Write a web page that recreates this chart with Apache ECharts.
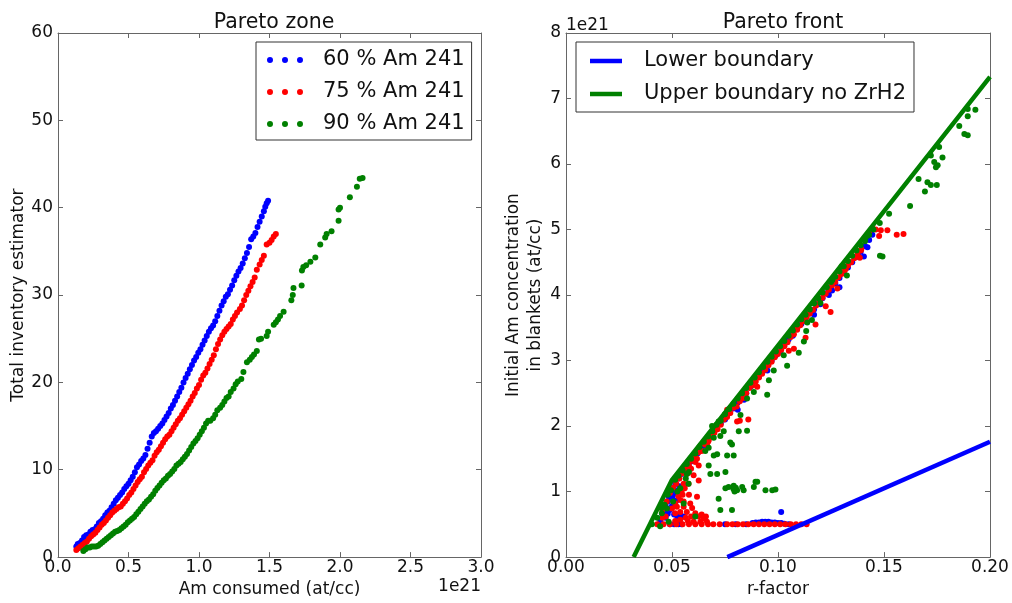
<!DOCTYPE html>
<html>
<head>
<meta charset="utf-8">
<script src="https://cdn.jsdelivr.net/npm/echarts@6/dist/echarts.min.js"></script>
<style>
html,body{margin:0;padding:0;background:#fff;overflow:hidden;}
#chart{width:1012px;height:603px;}
</style>
</head>
<body>
<div id="chart"></div>
<script>
// ---------- Data (x in units of 1e21 on the left panel, y in units of 1e21 on the right panel) ----------
const zoneTitle = 'Pareto zone';
const frontTitle = 'Pareto front';
const zoneNames = ['60 % Am 241', '75 % Am 241', '90 % Am 241'];
const boundaryNames = ['Lower boundary', 'Upper boundary no ZrH2'];

// Left panel: Am consumed (1e21 at/cc) vs total inventory estimator
const zone60 = [
[0.13,1.2],[0.14,1.5],[0.155,1.6],[0.17,1.9],[0.185,2.3],[0.2,2.5],[0.215,2.6],[0.23,2.9],[0.245,3.1],[0.26,3.2],
[0.275,3.5],[0.29,3.9],[0.305,4.1],[0.32,4.4],[0.335,4.8],[0.35,5.1],[0.365,5.3],[0.38,5.7],[0.395,6.1],[0.41,6.5],
[0.425,6.8],[0.44,7.1],[0.455,7.4],[0.47,7.8],[0.485,8.1],[0.5,8.4],[0.515,8.8],[0.53,9.2],[0.545,9.7],[0.56,10.3],
[0.575,10.6],[0.59,11.0],[0.605,11.3],[0.62,11.7],[0.635,12.4],[0.65,13.1],[0.665,13.8],[0.68,14.2],[0.695,14.4],[0.71,14.7],
[0.725,15.0],[0.74,15.3],[0.755,15.7],[0.77,16.1],[0.785,16.5],[0.8,17.0],[0.815,17.4],[0.83,17.9],[0.845,18.4],[0.86,18.9],
[0.875,19.4],[0.89,20.0],[0.905,20.5],[0.92,21.0],[0.935,21.5],[0.95,22.0],[0.965,22.5],[0.98,22.9],[0.995,23.4],[1.01,23.8],
[1.025,24.3],[1.04,24.8],[1.055,25.3],[1.07,25.8],[1.085,26.2],[1.1,26.5],[1.115,27.0],[1.13,27.6],[1.145,28.2],[1.16,28.8],
[1.175,29.3],[1.19,29.8],[1.205,30.1],[1.22,30.6],[1.235,31.1],[1.25,31.7],[1.265,32.2],[1.28,32.7],[1.295,33.1],[1.31,33.6],
[1.325,34.2],[1.34,34.8],[1.355,35.5],[1.37,36.4],[1.385,36.7],[1.4,37.1],[1.415,37.8],[1.43,38.4],[1.445,39.0],[1.46,39.6],
[1.47,40.1],[1.48,40.5],[1.49,40.8]
];
const zone75 = [
[0.13,0.8],[0.145,1.0],[0.16,1.2],[0.175,1.4],[0.19,1.6],[0.205,1.8],[0.22,2.1],[0.235,2.4],[0.25,2.6],[0.265,2.8],
[0.28,3.1],[0.295,3.4],[0.31,3.7],[0.325,3.9],[0.34,4.2],[0.355,4.5],[0.37,4.8],[0.385,5.1],[0.4,5.3],[0.415,5.5],
[0.43,5.7],[0.445,5.8],[0.46,6.1],[0.475,6.4],[0.49,6.7],[0.505,7.1],[0.52,7.4],[0.535,7.8],[0.55,8.2],[0.565,8.6],
[0.58,8.9],[0.595,9.2],[0.61,9.7],[0.625,10.1],[0.64,10.5],[0.655,10.8],[0.67,11.1],[0.685,11.6],[0.7,12.0],[0.715,12.3],
[0.73,12.7],[0.745,13.1],[0.76,13.5],[0.775,13.8],[0.79,14.0],[0.805,14.4],[0.82,14.8],[0.835,15.2],[0.85,15.6],[0.865,15.9],
[0.88,16.3],[0.895,16.7],[0.91,17.1],[0.925,17.5],[0.94,17.9],[0.955,18.4],[0.97,18.8],[0.985,19.3],[1.0,19.7],[1.015,20.3],
[1.03,20.8],[1.045,21.1],[1.06,21.6],[1.075,22.1],[1.09,22.6],[1.105,23.1],[1.12,23.8],[1.135,24.4],[1.15,24.9],[1.165,25.4],
[1.18,25.8],[1.195,26.1],[1.21,26.4],[1.225,26.7],[1.24,27.2],[1.255,27.6],[1.27,28.0],[1.29,28.4],[1.305,28.8],[1.32,29.4],
[1.335,30.0],[1.35,30.5],[1.365,31.0],[1.38,31.5],[1.395,32.0],[1.41,32.9],[1.43,33.5],[1.445,34.0],[1.46,34.5],[1.48,35.8],
[1.5,36.0],[1.515,36.3],[1.53,36.7],[1.545,37.0]
];
const zone90 = [
[0.18,0.7],[0.195,0.9],[0.21,1.1],[0.225,1.1],[0.24,1.2],[0.255,1.2],[0.27,1.2],[0.285,1.3],[0.3,1.5],[0.315,1.7],
[0.33,1.9],[0.345,2.1],[0.36,2.3],[0.375,2.5],[0.39,2.7],[0.405,2.9],[0.42,3.0],[0.435,3.1],[0.45,3.3],[0.465,3.5],
[0.48,3.7],[0.495,4.0],[0.51,4.2],[0.525,4.4],[0.54,4.6],[0.555,4.9],[0.57,5.2],[0.585,5.5],[0.6,5.8],[0.615,6.1],
[0.63,6.4],[0.645,6.6],[0.66,6.9],[0.675,7.2],[0.69,7.6],[0.705,7.9],[0.72,8.2],[0.735,8.5],[0.75,8.8],[0.765,9.0],
[0.78,9.3],[0.795,9.5],[0.81,9.8],[0.825,10.1],[0.84,10.5],[0.855,10.7],[0.87,10.9],[0.885,11.2],[0.9,11.5],[0.915,11.8],
[0.93,12.2],[0.945,12.6],[0.96,13.0],[0.975,13.3],[0.99,13.6],[1.005,14.0],[1.02,14.4],[1.035,14.8],[1.05,15.3],[1.065,15.6],
[1.08,15.6],[1.1,15.9],[1.115,16.3],[1.13,16.8],[1.15,17.1],[1.165,17.4],[1.18,17.8],[1.195,18.2],[1.21,18.4],[1.225,18.9],
[1.245,19.3],[1.26,19.8],[1.275,20.1],[1.3,20.4],[1.315,21.2],[1.34,22.3],[1.36,22.6],[1.375,22.9],[1.39,23.2],[1.41,23.6],
[1.425,24.9],[1.44,25.0],[1.48,25.3],[1.49,25.8],[1.53,26.6],[1.545,26.9],[1.56,27.2],[1.575,27.6],[1.6,28.1],[1.655,29.4],
[1.665,30.0],[1.67,30.8],[1.728,31.1],[1.73,32.8],[1.74,33.2],[1.76,33.4],[1.79,33.8],[1.825,34.3],[1.86,35.8],[1.895,36.6],
[1.905,37.0],[1.94,37.3],[1.99,38.5],[1.99,39.8],[2.0,40.0],[2.07,41.2],[2.12,42.4],[2.14,43.3],[2.16,43.4]
];

// Right panel: r-factor vs initial Am concentration in blankets (1e21 at/cc)
const front60 = [
[0.0515,1.12],[0.053,1.2],[0.0545,1.27],[0.056,1.33],[0.0575,1.40],[0.059,1.46],[0.0605,1.52],[0.062,1.58],[0.0635,1.66],[0.065,1.70],
[0.067,1.80],[0.069,1.86],[0.071,1.95],[0.073,2.04],[0.075,2.10],[0.077,2.20],[0.079,2.27],[0.081,2.36],[0.083,2.44],[0.085,2.50],
[0.087,2.60],[0.089,2.68],[0.091,2.75],[0.093,2.84],[0.095,2.92],[0.097,3.00],[0.099,3.08],[0.101,3.14],[0.103,3.24],[0.105,3.32],
[0.107,3.39],[0.109,3.48],[0.111,3.56],[0.113,3.63],[0.115,3.72],[0.117,3.78],[0.119,3.88],[0.121,3.95],[0.123,4.03],[0.125,4.12],
[0.127,4.18],[0.129,4.26],[0.131,4.36],[0.133,4.42],[0.135,4.50],[0.137,4.58],[0.139,4.66],[0.141,4.75],[0.143,4.84],[0.1445,4.92],
[0.12,3.86],[0.124,4.0],[0.1255,4.07],[0.117,3.7],[0.1405,4.59],[0.138,4.6],[0.1422,4.73],[0.129,4.12],[0.107,3.38],[0.095,2.85],
[0.081,2.25],[0.084,2.4],[0.066,1.72],
[0.0445,0.55],[0.0455,0.65],[0.0465,0.7],[0.047,0.78],[0.048,0.85],[0.0485,0.92],[0.049,1.0],[0.05,1.05],[0.0505,0.95],[0.047,0.6],
[0.048,0.66],[0.049,0.72],[0.05,0.78],[0.051,0.65],[0.0525,0.62],[0.054,0.64],[0.0555,0.62],[0.049,0.5],[0.051,0.5],[0.053,0.5],
[0.0545,0.5],[0.052,0.86],[0.053,0.95],[0.0515,1.02],[0.0535,1.08],[0.0505,0.88],
[0.075,0.5],[0.08,0.5],[0.085,0.5],[0.088,0.52],[0.0895,0.53],[0.091,0.53],[0.0925,0.54],[0.094,0.54],[0.0955,0.54],[0.097,0.53],
[0.0985,0.53],[0.1,0.52],[0.1015,0.52],[0.103,0.51],[0.105,0.5],[0.1015,0.69]
];
const front75 = [
[0.0455,0.72],[0.0475,0.85],[0.049,0.98],[0.0505,1.06],[0.052,1.12],[0.0535,1.2],[0.055,1.28],[0.0565,1.35],[0.058,1.40],[0.0595,1.47],
[0.061,1.52],[0.0625,1.6],[0.064,1.62],[0.0655,1.72],[0.067,1.76],[0.0685,1.84],[0.07,1.9],[0.0715,1.95],[0.073,2.02],[0.0745,2.1],
[0.076,2.14],[0.0775,2.2],[0.079,2.28],[0.0805,2.3],[0.082,2.38],[0.0835,2.43],[0.085,2.5],[0.0865,2.58],[0.088,2.62],[0.0895,2.68],
[0.091,2.74],[0.0925,2.8],[0.094,2.86],[0.0955,2.93],[0.097,2.98],[0.0985,3.05],[0.1,3.1],[0.1015,3.16],[0.103,3.22],[0.1045,3.28],
[0.106,3.36],[0.1075,3.4],[0.109,3.47],[0.1105,3.54],[0.112,3.6],[0.1135,3.66],[0.115,3.72],[0.1165,3.77],[0.118,3.84],[0.1195,3.9],
[0.121,3.96],[0.1225,4.02],[0.124,4.08],[0.1255,4.15],[0.127,4.2],[0.1285,4.27],[0.13,4.32],[0.1315,4.38],[0.133,4.45],[0.1345,4.5],
[0.136,4.56],[0.1375,4.62],[0.139,4.68],
[0.1177,3.55],[0.1248,3.74],[0.1225,3.83],[0.1075,3.18],[0.1051,3.15],[0.0902,2.6],[0.0807,2.07],[0.082,2.08],[0.076,2.25],[0.1091,3.5],
[0.1393,4.7],[0.1386,4.57],[0.1461,5.0],[0.1485,4.99],[0.1516,4.99],[0.1477,4.9],[0.156,4.92],[0.1592,4.93],[0.143,4.95],[0.1445,5.02],
[0.132,4.4],[0.128,4.1],[0.113,3.35],[0.086,2.1],[0.0665,1.72],[0.0673,1.78],
[0.0618,1.5],[0.0626,1.4],[0.0602,1.25],[0.0626,1.17],[0.0578,1.12],[0.0618,0.92],[0.0586,0.82],[0.0523,0.77],[0.0539,0.69],[0.057,0.69],
[0.0515,0.67],[0.061,0.67],[0.0649,0.59],[0.0602,0.54],[0.0634,0.54],[0.0665,0.54],[0.0539,0.57],[0.061,1.45],[0.0539,0.87],[0.0515,0.82],
[0.05,0.74],[0.0555,0.77],[0.055,0.95],[0.056,1.05],[0.0545,1.0],[0.058,0.95],[0.0595,0.75],[0.0565,0.6],[0.059,0.62],[0.0625,0.62],
[0.064,0.65],[0.066,0.62],[0.0555,0.85],[0.053,0.93],[0.0575,0.55],[0.047,0.62],[0.0455,0.6],[0.0555,1.12],[0.0575,1.28],[0.059,1.35],
[0.0515,0.55],
[0.043,0.5],[0.046,0.5],[0.049,0.5],[0.052,0.5],[0.055,0.5],[0.058,0.5],[0.061,0.5],[0.064,0.5],[0.067,0.5],[0.0695,0.5],
[0.0725,0.5],[0.076,0.5],[0.0785,0.5],[0.081,0.5],[0.0835,0.5],[0.086,0.5],[0.0885,0.5],[0.091,0.5],[0.0935,0.5],[0.096,0.5],
[0.0985,0.5],[0.101,0.5],[0.1035,0.5],[0.106,0.5],[0.1085,0.5],[0.111,0.5],[0.1135,0.5]
];
const front90 = [
[0.0405,0.5],[0.043,0.6],[0.045,0.75],[0.0465,0.8],[0.048,0.95],[0.0495,1.02],[0.0515,1.18],[0.053,1.24],[0.055,1.32],[0.057,1.42],
[0.059,1.5],[0.061,1.58],[0.063,1.68],[0.065,1.76],[0.067,1.84],[0.069,1.92],[0.071,2.02],[0.073,2.08],[0.075,2.18],[0.077,2.26],
[0.079,2.34],[0.081,2.42],[0.083,2.5],[0.085,2.58],[0.087,2.66],[0.089,2.74],[0.091,2.82],[0.093,2.9],[0.095,2.98],[0.097,3.06],
[0.099,3.14],[0.101,3.22],[0.103,3.3],[0.105,3.38],[0.107,3.46],[0.109,3.55],[0.111,3.63],[0.113,3.7],[0.115,3.78],[0.117,3.87],
[0.119,3.95],[0.121,4.04],[0.123,4.12],[0.125,4.2],[0.127,4.28],[0.129,4.36],[0.131,4.44],[0.133,4.52],[0.135,4.6],[0.137,4.68],
[0.139,4.76],[0.141,4.84],[0.143,4.92],[0.145,5.0],[0.148,5.1],[0.1524,5.24],[0.142,4.9],[0.141,4.82],
[0.1931,6.83],[0.1895,6.84],[0.1895,6.73],[0.1855,6.58],[0.1879,6.46],[0.1895,6.44],[0.176,6.26],[0.1721,6.13],[0.1776,6.1],[0.1737,6.03],
[0.1753,5.98],[0.1745,5.95],[0.1663,5.77],[0.1705,5.72],[0.1721,5.68],[0.1749,5.68],[0.1693,5.58],[0.1623,5.36],[0.1481,4.6],[0.1493,4.59],
[0.0949,2.48],[0.1043,2.92],[0.1098,3.12],[0.1122,3.29],[0.1133,3.45],[0.098,2.85],[0.0957,2.7],[0.0854,2.42],[0.0823,2.17],[0.0815,1.92],
[0.0854,1.93],[0.0886,2.52],[0.1027,3.08],[0.1138,3.58],[0.12,3.88],[0.1256,4.23],[0.1325,4.3],[0.130,4.44],[0.116,3.62],
[0.0744,1.92],[0.0783,1.72],[0.0713,1.57],[0.0697,1.55],[0.076,1.55],[0.0791,1.55],[0.0673,1.4],[0.0681,1.27],[0.0713,1.27],[0.0752,1.3],
[0.0752,1.05],[0.0767,1.07],[0.0791,1.09],[0.0807,1.02],[0.0831,1.07],[0.0838,1.02],[0.0886,1.07],[0.0894,1.15],[0.0728,0.72],[0.0783,0.72],
[0.072,0.89],[0.057,1.27],[0.0578,1.12],[0.0539,1.05],[0.0476,0.74],[0.0452,0.67],[0.0444,0.47],[0.0484,0.54],[0.061,0.62],[0.0555,0.82],
[0.0657,1.62],[0.0673,1.67],[0.0697,1.82],[0.0728,1.85],[0.0689,2.0],[0.072,2.07],[0.0775,1.75],[0.079,1.04],[0.0795,1.0],[0.0801,1.06],
[0.0941,1.02],[0.0973,1.02],[0.0988,1.03],[0.0902,1.15],[0.0565,1.2],[0.058,1.3],[0.0505,0.85],[0.0525,1.0]
];
const lowerBoundary = [[0.0761,0.0],[0.2,1.76]];
const upperBoundary = [[0.0319,0.0],[0.0500,1.18],[0.2,7.33]];

// ---------- Styling ----------
const FONT = 'DejaVu Sans';
const TXT = '#111';
const SPINE = '#666';
const BLUE = '#0000ff', RED = '#ff0000', GREEN = '#008000';
const DOTS = 'path://M0,3A3,3,0,1,0,6,3A3,3,0,1,0,0,3Z M15,3A3,3,0,1,0,21,3A3,3,0,1,0,15,3Z M30,3A3,3,0,1,0,36,3A3,3,0,1,0,30,3Z';

function mainAxis(gridIndex, pos, min, max, interval, digits, margin, extra) {
  return Object.assign({
    type: 'value', gridIndex: gridIndex, position: pos, min: min, max: max, interval: interval,
    axisLine: {show: true, onZero: false, lineStyle: {color: SPINE, width: 1}},
    axisTick: {show: true, inside: true, length: 5, lineStyle: {color: SPINE}},
    axisLabel: {show: true, color: TXT, fontFamily: FONT, fontSize: 17, margin: margin,
      showMinLabel: true, showMaxLabel: true,
      formatter: v => Number(v).toFixed(digits)},
    splitLine: {show: false},
    nameTextStyle: {color: TXT, fontFamily: FONT, fontSize: 17}
  }, extra || {});
}
function frameAxis(gridIndex, pos, min, max, interval) {
  return {
    type: 'value', gridIndex: gridIndex, position: pos, min: min, max: max, interval: interval,
    axisLine: {show: true, onZero: false, lineStyle: {color: SPINE, width: 1}},
    axisTick: {show: true, inside: true, length: 5, lineStyle: {color: SPINE}},
    axisLabel: {show: false}, splitLine: {show: false}
  };
}

const chart = echarts.init(document.getElementById('chart'), null, {renderer: 'canvas'});
const option = {
  animation: false,
  backgroundColor: '#fff',
  title: [
    {text: zoneTitle, left: 269, top: 7, textAlign: 'center',
     textStyle: {fontFamily: FONT, fontSize: 20.5, fontWeight: 'normal', color: TXT}},
    {text: frontTitle, left: 778, top: 7, textAlign: 'center',
     textStyle: {fontFamily: FONT, fontSize: 20.5, fontWeight: 'normal', color: TXT}}
  ],
  grid: [
    {left: 58, top: 33, width: 423, height: 531.5},
    {left: 566, top: 33, width: 424, height: 531.5}
  ],
  xAxis: [
    mainAxis(0, 'bottom', 0, 3, 0.5, 1, 2, {name: 'Am consumed (at/cc)', nameLocation: 'middle', nameGap: 17}),
    frameAxis(0, 'top', 0, 3, 0.5),
    mainAxis(1, 'bottom', 0, 0.2, 0.05, 2, 2, {name: 'r-factor', nameLocation: 'middle', nameGap: 17}),
    frameAxis(1, 'top', 0, 0.2, 0.05)
  ],
  yAxis: [
    mainAxis(0, 'left', 0, 60, 10, 0, 5, {name: 'Total inventory estimator', nameLocation: 'middle', nameGap: 29}),
    frameAxis(0, 'right', 0, 60, 10),
    mainAxis(1, 'left', 0, 8, 1, 0, 5, {name: 'Initial Am concentration\nin blankets (at/cc)', nameLocation: 'middle', nameGap: 12,
      nameTextStyle: {color: TXT, fontFamily: FONT, fontSize: 17, lineHeight: 22}}),
    frameAxis(1, 'right', 0, 8, 1)
  ],
  legend: [
    {data: zoneNames, left: 256, top: 42, orient: 'vertical', icon: DOTS, itemWidth: 36, itemHeight: 6,
     itemGap: 10, padding: [7, 7, 5, 11], borderColor: '#333', borderWidth: 1, backgroundColor: '#fff',
     selectedMode: false,
     textStyle: {fontFamily: FONT, fontSize: 21, color: TXT, lineHeight: 22, padding: [0, 0, 0, 15]}},
    {data: boundaryNames, left: 576, top: 42, orient: 'vertical', icon: 'rect', itemWidth: 32, itemHeight: 4.5,
     itemGap: 11, padding: [8, 8, 7, 14], borderColor: '#333', borderWidth: 1, backgroundColor: '#fff',
     selectedMode: false,
     textStyle: {fontFamily: FONT, fontSize: 21, color: TXT, lineHeight: 22, padding: [0, 0, 0, 17]}}
  ],
  graphic: [
    {type: 'text', right: 1012 - 481, top: 578, style: {text: '1e21', font: '17px "DejaVu Sans"', fill: TXT}},
    {type: 'text', left: 566, top: 17, style: {text: '1e21', font: '17px "DejaVu Sans"', fill: TXT}}
  ],
  series: [
    {name: zoneNames[0], type: 'scatter', xAxisIndex: 0, yAxisIndex: 0, data: zone60, symbolSize: 6, itemStyle: {color: BLUE, opacity: 1}},
    {name: zoneNames[1], type: 'scatter', xAxisIndex: 0, yAxisIndex: 0, data: zone75, symbolSize: 6, itemStyle: {color: RED, opacity: 1}},
    {name: zoneNames[2], type: 'scatter', xAxisIndex: 0, yAxisIndex: 0, data: zone90, symbolSize: 6, itemStyle: {color: GREEN, opacity: 1}},
    {name: 'front60', type: 'scatter', xAxisIndex: 2, yAxisIndex: 2, data: front60, symbolSize: 6, itemStyle: {color: BLUE, opacity: 1}},
    {name: 'front75', type: 'scatter', xAxisIndex: 2, yAxisIndex: 2, data: front75, symbolSize: 6, itemStyle: {color: RED, opacity: 1}},
    {name: 'front90', type: 'scatter', xAxisIndex: 2, yAxisIndex: 2, data: front90, symbolSize: 6, itemStyle: {color: GREEN, opacity: 1}},
    {name: boundaryNames[0], type: 'line', xAxisIndex: 2, yAxisIndex: 2, data: lowerBoundary, showSymbol: false, symbol: 'none',
     lineStyle: {color: BLUE, width: 4.5}, itemStyle: {color: BLUE}, z: 5},
    {name: boundaryNames[1], type: 'line', xAxisIndex: 2, yAxisIndex: 2, data: upperBoundary, showSymbol: false, symbol: 'none',
     lineStyle: {color: GREEN, width: 4.5}, itemStyle: {color: GREEN}, z: 5}
  ]
};
chart.setOption(option);
</script>
</body>
</html>
